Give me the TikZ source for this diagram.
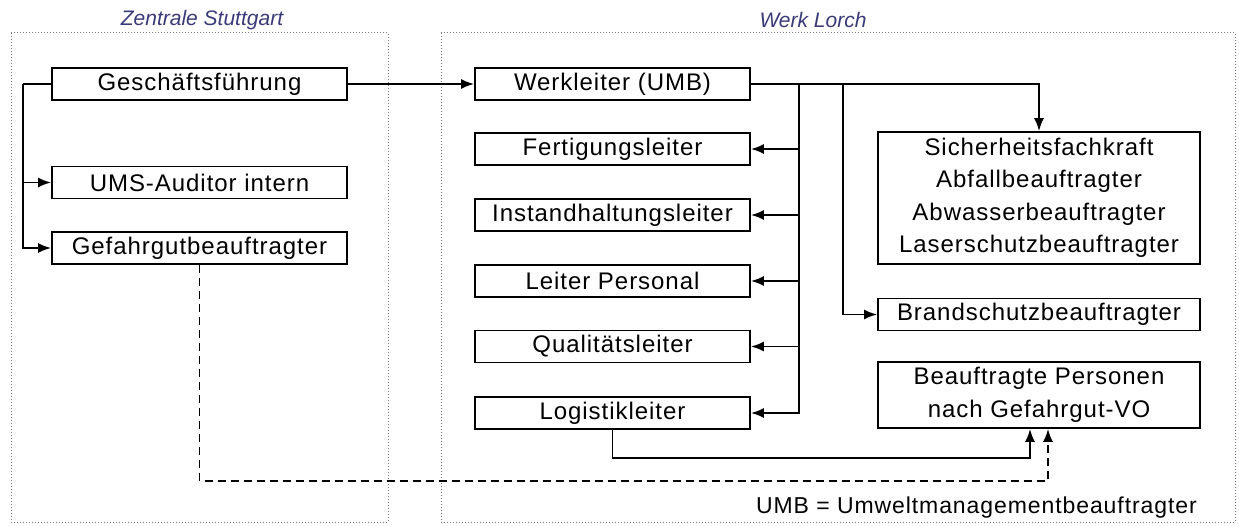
\documentclass[tikz,border=0pt]{standalone}
\usepackage{fontspec}
\setmainfont{Liberation Sans}
\newfontfamily\boxfont[LetterSpace=4]{Liberation Sans}
\usetikzlibrary{arrows.meta}
\definecolor{titleblue}{HTML}{3A3A78}
\definecolor{framegray}{HTML}{7A7A7A}
\tikzset{
  orgbox/.style={draw=black, line width=1.8pt, inner sep=0pt, align=center,
    font=\boxfont\fontsize{24}{32.5}\selectfont},
  lbox/.style={orgbox, minimum width=295pt, minimum height=32pt},
  rbox/.style={orgbox, minimum width=275pt, minimum height=32pt},
  xbox/.style={orgbox, minimum width=322pt, minimum height=32pt},
  conn/.style={line width=1.8pt, draw=black},
  arr/.style={conn, -{Latex[length=13pt,width=10pt]}},
  dashline/.style={dash pattern=on 8pt off 5pt},
  frame/.style={draw=framegray, line width=1pt, dash pattern=on 1pt off 2pt},
  grouptitle/.style={font=\itshape\fontsize{21}{24}\selectfont, text=titleblue, inner sep=0pt}
}
\begin{document}
\begin{tikzpicture}[x=1pt,y=-1pt]
\useasboundingbox (0,0) rectangle (1239,526);
% frames
\draw[frame] (11,33) rectangle (388,522);
\draw[frame] (441,33) rectangle (1235,522);
\node[grouptitle] (t1) at (202,20) {Zentrale Stuttgart};
\node[grouptitle] (t2) at (813,20) {Werk Lorch};
% left boxes
\node[lbox] (gf) at (199.5,84) {Geschäftsführung};
\node[lbox] (ums) at (199.5,182.5) {UMS-Auditor intern};
\node[lbox] (gb) at (199.5,248) {Gefahrgutbeauftragter};
% middle boxes
\node[rbox] (wl) at (612.5,84) {Werkleiter (UMB)};
\node[rbox] (fl) at (612.5,149) {Fertigungsleiter};
\node[rbox] (il) at (612.5,215) {Instandhaltungsleiter};
\node[rbox] (lp) at (612.5,281) {Leiter Personal};
\node[rbox] (ql) at (612.5,346.5) {Qualitätsleiter};
\node[rbox] (ll) at (612.5,413) {Logistikleiter};
% right boxes
\node[xbox, minimum height=132pt] (sf) at (1039,198) {Sicherheitsfachkraft\\Abfallbeauftragter\\Abwasserbeauftragter\\Laserschutzbeauftragter};
\node[xbox] (bs) at (1039,314.5) {Brandschutzbeauftragter};
\node[xbox, minimum height=66pt] (bp) at (1039,395) {Beauftragte Personen\\nach Gefahrgut-VO};
% legend
\node[anchor=east, inner sep=0pt, font=\boxfont\fontsize{23}{26}\selectfont] (leg) at (1197,508) {UMB = Umweltmanagementbeauftragter};
% connectors
\coordinate (lbus) at (23,84);
\coordinate (rbus) at (799,84);
\coordinate (bbus) at (843,84);
\draw[arr] (gf.east) -- (wl.west);
\draw[conn] (gf.west) -- (lbus);
\draw[arr] (lbus) |- (ums.west);
\draw[arr] (lbus) |- (gb.west);
\draw[arr] (wl.east) -| (sf.north);
\draw[arr] (rbus) |- (fl.east);
\draw[arr] (rbus) |- (il.east);
\draw[arr] (rbus) |- (lp.east);
\draw[arr] (rbus) |- (ql.east);
\draw[arr] (rbus) |- (ll.east);
\draw[arr] (bbus) |- (bs.west);
\draw[arr] (ll.south) -- ++(0,28) -| ([xshift=-9pt]bp.south);
\draw[arr, dashline] (gb.south) -- ++(0,216) -| ([xshift=9pt]bp.south);
\end{tikzpicture}
\end{document}
